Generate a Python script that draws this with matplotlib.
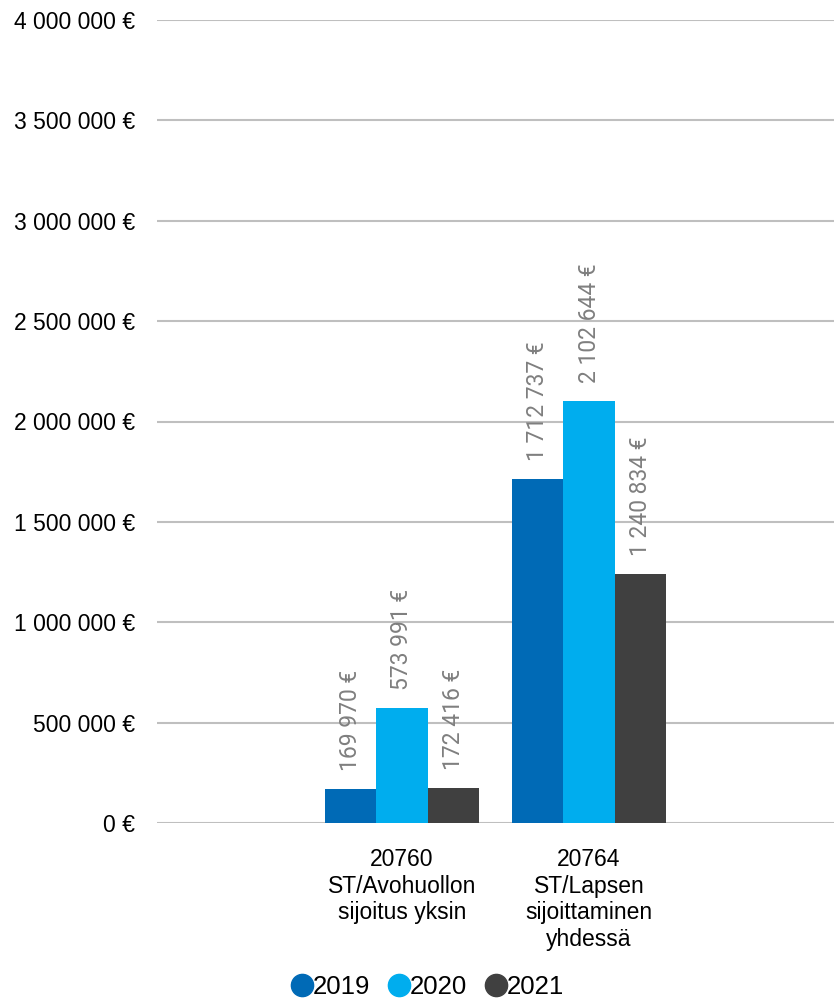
import matplotlib.pyplot as plt
from matplotlib.lines import Line2D
import numpy as np

categories = ['20760\nST/Avohuollon\nsijoitus yksin', '20764\nST/Lapsen\nsijoittaminen\nyhdessä']
years = ['2019', '2020', '2021']
v2019 = [169970, 1712737]
v2020 = [573991, 2102644]
v2021 = [172416, 1240834]
colors = ['#006ab6', '#00adee', '#404040']

plt.rcParams['font.family'] = ['Liberation Sans', 'DejaVu Sans']

fig = plt.figure(figsize=(8.34, 10.01), dpi=100)
ax = fig.add_axes([157 / 834, 1 - 823 / 1001, 1 - 157 / 834, (823 - 20) / 1001])

x = np.arange(len(categories))
w = 0.273
series = [v2019, v2020, v2021]

for i, (vals, col, yr) in enumerate(zip(series, colors, years)):
    pos = x + (i - 1) * w
    ax.bar(pos, vals, width=w, color=col, label=yr, zorder=3)
    for px, v in zip(pos, vals):
        txt = f'{v:,} €'.replace(',', ' ')
        ax.annotate(txt, (px, v), xytext=(0, 13), textcoords='offset points',
                    rotation=90, ha='center', va='bottom', fontsize=16.5,
                    color='#7f7f7f', family=['Roboto', 'DejaVu Sans'])

ax.set_ylim(0, 4000000)
ax.set_xlim(-1.31, 2.31)
ticks = np.arange(0, 4000001, 500000)
ax.set_yticks(ticks)
ax.set_yticklabels([f'{int(t):,} €'.replace(',', ' ') for t in ticks], fontsize=16.5)
ax.set_xticks(x)
ax.set_xticklabels(categories, fontsize=16.5, linespacing=1.2)
ax.tick_params(axis='both', length=0)
ax.tick_params(axis='y', pad=16)
ax.tick_params(axis='x', pad=18)
ax.grid(axis='y', color='#bfbfbf', linewidth=1.5, zorder=0)
for s in ax.spines.values():
    s.set_visible(False)

handles = [Line2D([], [], marker='o', linestyle='', markersize=16, color=c) for c in colors]
fig.legend(handles, years, loc='center', bbox_to_anchor=(0.51, 0.014),
           ncol=3, frameon=False, fontsize=18.5, handletextpad=-0.2, columnspacing=0.55,
           handlelength=1.2, borderpad=0)

fig.savefig('out.png', dpi=100)
